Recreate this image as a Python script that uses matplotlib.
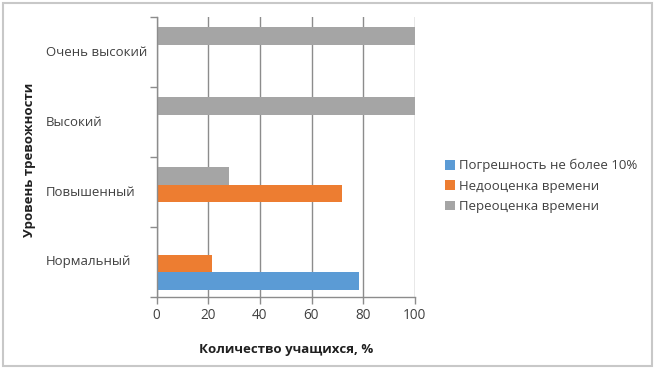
import matplotlib
matplotlib.use("Agg")
import matplotlib.pyplot as plt
import matplotlib.transforms as mtransforms
from matplotlib.patches import Rectangle
import numpy as np

plt.rcParams['font.family'] = ['Open Sans', 'DejaVu Sans']

categories = ["Нормальный", "Повышенный", "Высокий", "Очень высокий"]
series_names = ["Погрешность не более 10%", "Недооценка времени", "Переоценка времени"]
accurate = [78.5, 0, 0, 0]
underestimate = [21.5, 72, 0, 0]
overestimate = [0, 28, 100, 100]
colors = ["#5B9BD5", "#ED7D31", "#A5A5A5"]

W, H = 655, 369
fig = plt.figure(figsize=(W / 100, H / 100), dpi=100)
ax = fig.add_axes([156.7 / W, 1 - 297 / H, 258 / W, 280 / H])

y = np.arange(len(categories))
bh = 0.25
for i, (vals, name, c) in enumerate(zip([accurate, underestimate, overestimate], series_names, colors)):
    ax.barh(y + (i - 1) * bh - 0.02, vals, height=bh, color=c, label=name, linewidth=0)

ax.set_xlim(0, 100)
ax.set_ylim(-0.5, len(categories) - 0.5)
ax.set_xticks([0, 20, 40, 60, 80, 100])
ax.grid(axis='x', color='#8c8c8c', linewidth=1)
ax.set_axisbelow(True)

ax.set_yticks(y)
ax.set_yticklabels([])
ax.tick_params(axis='y', which='major', length=0)
ax.set_yticks(np.arange(len(categories) + 1) - 0.5, minor=True)
ax.tick_params(axis='y', which='minor', length=5, color='#8c8c8c', width=1)
ax.tick_params(axis='x', length=5, color='#8c8c8c', width=1, labelsize=9.8, labelcolor='#404040', pad=3)

for s in ['top', 'right']:
    ax.spines[s].set_visible(False)
for s in ['left', 'bottom']:
    ax.spines[s].set_color('#8c8c8c')
    ax.spines[s].set_linewidth(1)

trans = mtransforms.blended_transform_factory(fig.transFigure, ax.transData)
for yi, cat in zip(y, categories):
    ax.text(46 / W, yi, cat, transform=trans, ha='left', va='center',
            fontsize=9.5, color='#404040')

ax.set_xlabel("Количество учащихся, %", fontsize=9.5, fontweight='bold', color='#202020', labelpad=14)
fig.text(30 / W, 1 - 160 / H, "Уровень тревожности", rotation=90, ha='center', va='center',
         fontsize=9.5, fontweight='bold', color='#202020')

ax.legend(loc='center left', bbox_to_anchor=(433 / W, 1 - 186 / H), bbox_transform=fig.transFigure,
          frameon=False, fontsize=9.5, handlelength=0.75, handleheight=0.75, handletextpad=0.3,
          labelspacing=0.55, labelcolor='#404040')

fig.patches.append(Rectangle((3 / W, 3 / H), 649 / W, 363 / H, transform=fig.transFigure,
                             fill=False, edgecolor='#c8c8c8', linewidth=1.5))

fig.savefig("out.png", dpi=100)
